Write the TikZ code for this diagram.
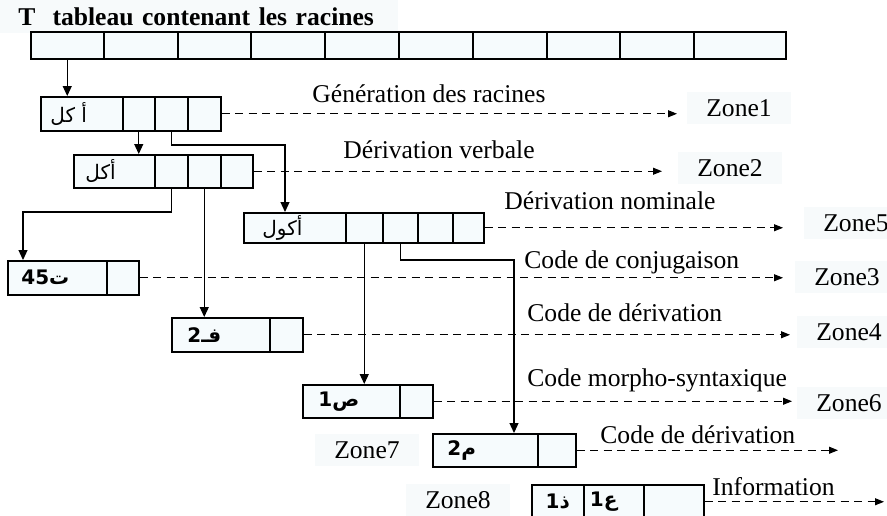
\documentclass[tikz,border=0pt]{standalone}
\usepackage{fontspec}
\setmainfont{Liberation Serif}
\newfontfamily\arabicfont[Script=Arabic]{DejaVu Sans}
\TeXXeTstate=1
\usetikzlibrary{arrows.meta, positioning}
\definecolor{cellfill}{HTML}{F6FBFD}
\definecolor{zonefill}{HTML}{F7FAFB}
\newcommand{\arb}[1]{{\arabicfont\beginR #1\endR}}
\newcommand{\num}[1]{\beginL #1\endL}

\begin{document}
\begin{tikzpicture}[
  x=0.5pt, y=-0.5pt,
  cell/.style={draw, fill=cellfill, line width=0.75pt, anchor=north west, inner sep=0pt},
  link/.style={-{Triangle[length=5pt, width=4.5pt]}, line width=0.6pt},
  dlink/.style={-{Triangle[length=4.5pt, width=3.5pt]}, line width=0.5pt, dash pattern=on 4pt off 2.8pt},
  lbl/.style={font=\fontsize{12.8}{15}\selectfont, inner sep=0pt, anchor=west},
  zone/.style={fill=zonefill, font=\fontsize{12.8}{15}\selectfont,
    minimum width=52pt, minimum height=16pt, inner sep=0pt},
  artxt/.style={font=\fontsize{10}{12}\selectfont, inner sep=0pt},
]
  \useasboundingbox (0,0) rectangle (887,515);

  % Title and root array
  \node[fill=zonefill, anchor=north west, minimum height=16.5pt, text width=181pt,
    align=left, inner xsep=9pt, font=\bfseries\fontsize{12.8}{15}\selectfont]
    (title) at (0,0) {T\ \ tableau contenant les racines};
  \foreach \l/\r [count=\i] in {30/103,103/177,177/250,250/324,324/398,
                                398/472,472/546,546/619,619/693,693/785}
    \node[cell, minimum width={(\r-\l)*0.5pt}, minimum height=13.5pt] (t\i) at (\l,31) {};

  % Root records
  \node[cell, minimum width=41pt,   minimum height=17pt] (b1a) at (40,96) {};
  \node[cell, minimum width=16pt,   minimum height=17pt] (b1b) at (122,96) {};
  \node[cell, minimum width=16.5pt, minimum height=17pt] (b1c) at (154,96) {};
  \node[cell, minimum width=16.5pt, minimum height=17pt] (b1d) at (187,96) {};
  \node[artxt, right=5pt of b1a.west] (w1) {\arb{أ كل}};

  \node[cell, minimum width=40.5pt, minimum height=16.5pt] (b2a) at (73,154) {};
  \node[cell, minimum width=16.5pt, minimum height=16.5pt] (b2b) at (154,154) {};
  \node[cell, minimum width=16.5pt, minimum height=16.5pt] (b2c) at (187,154) {};
  \node[cell, minimum width=16pt,   minimum height=16.5pt] (b2d) at (220,154) {};
  \node[artxt, right=6pt of b2a.west] (w2) {\arb{أكل}};

  \node[cell, minimum width=51pt,   minimum height=15pt] (b3a) at (243,212) {};
  \node[cell, minimum width=18.5pt, minimum height=15pt] (b3b) at (345,212) {};
  \node[cell, minimum width=17.5pt, minimum height=15pt] (b3c) at (382,212) {};
  \node[cell, minimum width=17.5pt, minimum height=15pt] (b3d) at (417,212) {};
  \node[cell, minimum width=15.5pt, minimum height=15pt] (b3e) at (452,212) {};
  \node[artxt, right=9.5pt of b3a.west] (w3) {\arb{أكول}};

  % Code records
  \node[cell, minimum width=49.5pt, minimum height=17pt] (b4a) at (7,260) {};
  \node[cell, minimum width=16pt,   minimum height=17pt] (b4b) at (106,260) {};
  \node[artxt, font=\bfseries, right=7pt of b4a.west] (w4) {\arb{ت\num{45}}};

  \node[cell, minimum width=49pt,   minimum height=17pt] (b5a) at (171,317) {};
  \node[cell, minimum width=16.5pt, minimum height=17pt] (b5b) at (269,317) {};
  \node[artxt, font=\bfseries, right=8pt of b5a.west] (w5) {\arb{فـ\num{2}}};

  \node[cell, minimum width=48.5pt, minimum height=16.5pt] (b6a) at (302,384) {};
  \node[cell, minimum width=16.5pt, minimum height=16.5pt] (b6b) at (399,384) {};
  \node[artxt, font=\bfseries, right=8pt of b6a.west] (w6) {\arb{ص\num{1}}};

  \node[cell, minimum width=52.5pt, minimum height=16.5pt] (b7a) at (432,433) {};
  \node[cell, minimum width=19pt,   minimum height=16.5pt] (b7b) at (537,433) {};
  \node[artxt, font=\bfseries, right=7.5pt of b7a.west] (w7) {\arb{م\num{2}}};

  \node[cell, minimum width=26pt, minimum height=17pt] (b8a) at (531,484) {};
  \node[cell, minimum width=30pt, minimum height=17pt] (b8b) at (583,484) {};
  \node[cell, minimum width=30pt, minimum height=17pt] (b8c) at (643,484) {};
  \node[artxt, font=\bfseries] (w8) at (b8a) {\arb{ذ\num{1}}};
  \node[artxt, font=\bfseries, xshift=-5pt] (w9) at (b8b) {\arb{ع\num{1}}};

  % Pointers
  \coordinate (k1) at (285,145);
  \coordinate (k2) at (23,212);
  \coordinate (k3) at (514,260);
  \draw[link] (t1.south) -- (t1.south |- b1a.north);
  \draw[link] (b1b.south) -- (b1b.south |- b2a.north);
  \draw[link] (b1c.south) |- (k1) -- (k1 |- b3a.north);
  \draw[link] (b2b.south) |- (k2) -- (k2 |- b4a.north);
  \draw[link] (b2c.south) -- (b2c.south |- b5a.north);
  \draw[link] (b3b.south) -- (b3b.south |- b6a.north);
  \draw[link] (b3c.south) |- (k3) -- (k3 |- b7a.north);

  % Zones
  \node[zone] (z1) at (739,108) {Zone1};
  \node[zone] (z2) at (730,168) {Zone2};
  \node[zone] (z5) at (856,223) {Zone5};
  \node[zone] (z3) at (847,277) {Zone3};
  \node[zone] (z4) at (849,332) {Zone4};
  \node[zone] (z6) at (849,403) {Zone6};
  \node[zone] (z7) at (367,450) {Zone7};
  \node[zone] (z8) at (458,500) {Zone8};

  % Dashed outputs
  \coordinate (e1) at (677,0);
  \coordinate (e2) at (662,0);
  \coordinate (e3) at (783,0);
  \coordinate (e4) at (783,0);
  \coordinate (e5) at (790,0);
  \coordinate (e6) at (792,0);
  \coordinate (e7) at (838,0);
  \coordinate (e8) at (884,0);
  \foreach \b/\e in {b1d/e1, b2d/e2, b3e/e3, b4b/e4, b5b/e5, b6b/e6, b7b/e7, b8c/e8}
    \draw[dlink] (\b.east) -- (\b.east -| \e);

  \node[lbl] (l1) at (312,94)  {Génération des racines};
  \node[lbl] (l2) at (343,150) {Dérivation verbale};
  \node[lbl] (l3) at (504,201) {Dérivation nominale};
  \node[lbl] (l4) at (524,262) {Code de conjugaison};
  \node[lbl] (l5) at (527,313) {Code de dérivation};
  \node[lbl] (l6) at (527,380) {Code morpho-syntaxique};
  \node[lbl] (l7) at (600,435) {Code de dérivation};
  \node[lbl] (l8) at (712,487) {Information};
\end{tikzpicture}
\end{document}
